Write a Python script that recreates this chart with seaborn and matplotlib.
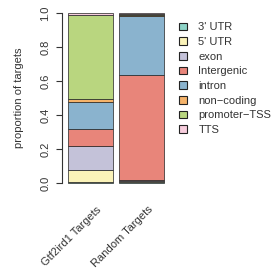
import matplotlib
matplotlib.use("Agg")
import matplotlib.pyplot as plt
import matplotlib.transforms as mtransforms
from matplotlib.patches import Patch
import seaborn as sns
import pandas as pd

# ── data ─────────────────────────────────────────────────────────────────────
targets = ["Gtf2ird1 Targets", "Random Targets"]
features = ["3' UTR", "5' UTR", "exon", "Intergenic", "intron",
            "non\u2212coding", "promoter\u2212TSS", "TTS"]
gtf2ird1 = [0.005, 0.073, 0.138, 0.102, 0.157, 0.019, 0.492, 0.014]
random_t = [0.006, 0.004, 0.010, 0.617, 0.343, 0.006, 0.010, 0.004]
colors = ["#8DD3C7", "#FBF3B9", "#C4C2D9", "#E8857A", "#8AB3CE",
          "#F5B36A", "#B9D67F", "#F7CDDD"]

rows = []
for t, vals in zip(targets, [gtf2ird1, random_t]):
    for f, v in zip(features, vals):
        rows.append({"target": t, "feature": f, "prop": v})
df = pd.DataFrame(rows)
pal = dict(zip(features, colors))

sns.set_style("white")
plt.rcParams["font.family"] = ["Liberation Sans", "DejaVu Sans"]
TXT = "#333333"
FS = 8

W, H = 275, 276
fig = plt.figure(figsize=(W / 100, H / 100), dpi=100)
ax = fig.add_axes([62 / W, (H - 183) / H, 108 / W, 170 / H])

# seaborn stacks the first hue level on top -> reverse so 3'UTR sits at bottom
sns.histplot(data=df, x="target", hue="feature", weights="prop",
             hue_order=features[::-1], palette=pal, multiple="stack",
             discrete=True, shrink=0.88, alpha=1, edgecolor="#222222",
             linewidth=0.5, legend=False, ax=ax)

ax.set_xlim(-0.56, 1.56)
ax.set_ylim(0, 1)
for p in ax.patches:
    p.set_clip_on(False)

for s in ["top", "right", "bottom"]:
    ax.spines[s].set_visible(False)
ax.spines["left"].set_color(TXT)
ax.spines["left"].set_linewidth(0.8)

ax.set_yticks([0, 0.2, 0.4, 0.6, 0.8, 1.0])
ax.set_yticklabels(["0.0", "0.2", "0.4", "0.6", "0.8", "1.0"],
                   rotation=90, va="center", fontsize=FS, color=TXT)
ax.tick_params(axis="y", left=True, length=4.5, width=0.8, color=TXT, pad=4)

ax.set_xticks([0, 1])
ax.set_xticklabels(targets, rotation=45, ha="right", rotation_mode="anchor",
                   fontsize=FS, color=TXT)
ax.tick_params(axis="x", bottom=False, pad=12)
shift = mtransforms.ScaledTranslation(6 / 100, 0, fig.dpi_scale_trans)
for lab in ax.get_xticklabels():
    lab.set_transform(lab.get_transform() + shift)
ax.set_xlabel("")
ax.set_ylabel("proportion of targets", fontsize=FS, color=TXT, labelpad=12)

handles = [Patch(facecolor=c, edgecolor="#222222", linewidth=0.8, label=f)
           for f, c in zip(features, colors)]
fig.legend(handles=handles, loc="upper left",
           bbox_to_anchor=(175 / W, 1 - 18 / H), frameon=False,
           fontsize=FS, handlelength=0.7, handleheight=0.7,
           handletextpad=1.0, labelspacing=0.42, labelcolor=TXT,
           borderaxespad=0)

fig.savefig("out.png", dpi=100, facecolor="white")
